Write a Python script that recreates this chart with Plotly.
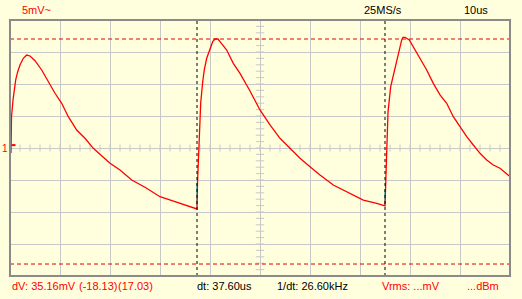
import plotly.graph_objects as go

# ---- data (time in microseconds, voltage in mV) ----
trace_t = [0.2, 0.3, 0.6, 0.86, 1.14, 1.54, 2.0, 2.66, 3.34, 4.0, 5.0, 6.34, 7.66, 9.0,
           10.34, 11.66, 13.34, 15.0, 16.66, 19.0, 20.0, 22.0, 24.34, 27.0, 30.0, 33.0,
           35.0, 37.0, 37.4,
           37.5, 37.7, 38.0, 38.14, 38.54, 38.86, 39.34, 40.0, 40.54, 41.0, 41.6, 42.0,
           43.34, 44.66, 46.0, 48.0, 50.0, 52.0, 54.0, 56.0, 58.0, 60.0, 62.0, 64.66,
           68.0, 70.66, 73.34, 74.66, 75.0,
           75.1, 75.3, 75.5, 75.6, 76.14, 76.46, 76.86, 77.34, 77.8, 78.34, 78.6, 79.0,
           79.86, 80.66, 82.0, 83.34, 84.66, 86.0, 87.34, 88.66, 90.0, 91.34, 92.66,
           94.0, 95.34, 96.66, 98.0, 99.34, 99.86]
trace_v = [-0.78, 4.84, 7.5, 9.06, 10.63, 11.92, 12.97, 14.02, 14.53, 14.38, 13.64, 12.19,
           10.36, 8.55, 6.98, 4.89, 2.81, 1.52, -0.05, -1.61, -2.39, -3.44, -5.0, -6.14,
           -7.61, -8.39, -8.91, -9.42, -9.53,
           -5.47, -0.6, 3.9, 7.03, 10.36, 12.19, 14.02, 15.58, 16.61, 17.03, 17.03, 16.61,
           15.31, 13.23, 11.67, 8.9, 5.94, 3.6, 1.52, -0.05, -1.61, -2.92, -4.22, -5.78,
           -7.08, -8.13, -8.64, -9.06, -9.06,
           -6.56, -1.88, 2.34, 5.6, 9.58, 10.63, 12.19, 13.75, 15.31, 16.88, 17.3, 17.3,
           16.88, 15.83, 13.97, 12.19, 10.1, 8.3, 6.98, 4.89, 3.33, 1.77, 0.47,
           -0.83, -1.88, -2.66, -3.17, -3.95, -4.38]

# trigger markers (cyan segments at the rising edges)
trig_t = [37.35, 37.35, None, 74.95, 74.95]
trig_v = [-9.0, -5.47, None, -9.0, -6.56]

# cursors
cursor_v = [-18.13, 17.03]     # mV
cursor_t = [37.4, 75.0]        # us
ch1_offset_mv = 0.45

x_range = [0, 100]
y_range = [-20, 20]
x_div = 10
y_div = 5
x_minor = [i * 2 for i in range(1, 50)]
y_minor = [i * 1 for i in range(-19, 20)]

top_labels = [("5mV~", 20, "#ff0000"), ("25MS/s", 362, "#000000"), ("10us", 462, "#000000")]
bottom_labels = [("dV: 35.16mV", 10, "#ff0000"), ("(-18.13)", 77, "#ff0000"),
                 ("(17.03)", 116, "#ff0000"), ("dt: 37.60us", 195, "#000000"),
                 ("1/dt: 26.60kHz", 275, "#000000"), ("Vrms: ...mV", 380, "#ff0000"),
                 ("...dBm", 465, "#ff0000")]

# ---- figure ----
W, H = 522, 299
ML, MR, MT, MB = 10, 12, 20, 23
PW, PH = W - ML - MR, H - MT - MB
BG = "#ffffdd"
GRID = "#c8c8c8"

fig = go.Figure()

# minor ticks on the centre axes
fig.add_trace(go.Scatter(x=x_minor, y=[0] * len(x_minor), mode="markers",
                         marker=dict(symbol="line-ns", size=5, line=dict(color=GRID, width=1)),
                         hoverinfo="skip", showlegend=False))
fig.add_trace(go.Scatter(x=[50] * len(y_minor), y=y_minor, mode="markers",
                         marker=dict(symbol="line-ew", size=6, line=dict(color=GRID, width=1)),
                         hoverinfo="skip", showlegend=False))

fig.add_trace(go.Scatter(x=trig_t, y=trig_v, mode="lines",
                         line=dict(color="#00e8e8", width=1), hoverinfo="skip",
                         showlegend=False, connectgaps=False))
fig.add_trace(go.Scatter(x=trace_t, y=trace_v, mode="lines",
                         line=dict(color="#ff0000", width=1.3), showlegend=False))

shapes = []
for v in cursor_v:
    shapes.append(dict(type="line", xref="paper", x0=0, x1=1, yref="y", y0=v, y1=v,
                       line=dict(color="#e00000", width=1, dash="4px,3px"), layer="above"))
for t in cursor_t:
    shapes.append(dict(type="line", xref="x", x0=t, x1=t, yref="paper", y0=0, y1=1,
                       line=dict(color="#000000", width=1, dash="3px,3px"), layer="above"))
# channel reference marker
shapes.append(dict(type="line", xref="paper", x0=0.003, x1=0.011, yref="y",
                   y0=ch1_offset_mv, y1=ch1_offset_mv,
                   line=dict(color="#ff0000", width=2), layer="above"))
# frame
shapes.append(dict(type="rect", xref="paper", yref="paper", x0=0, x1=1, y0=0, y1=1,
                   line=dict(color="#8a8a8a", width=2), layer="above"))

annotations = []
for txt, px, col in top_labels:
    annotations.append(dict(text=txt, xref="paper", yref="paper",
                            x=(px - ML) / PW, y=(H - MB - 9.5) / PH,
                            xanchor="left", yanchor="middle", showarrow=False,
                            font=dict(color=col, size=11, family="Liberation Sans, Arial")))
for txt, px, col in bottom_labels:
    annotations.append(dict(text=txt, xref="paper", yref="paper",
                            x=(px - ML) / PW, y=(H - MB - 286) / PH,
                            xanchor="left", yanchor="middle", showarrow=False,
                            font=dict(color=col, size=11, family="Liberation Sans, Arial")))
annotations.append(dict(text="1", xref="paper", yref="y", x=(0 - ML) / PW, y=0,
                        xanchor="left", yanchor="middle", showarrow=False,
                        font=dict(color="#ff0000", size=10, family="Liberation Sans, Arial")))

fig.update_layout(
    width=W, height=H,
    margin=dict(l=ML, r=MR, t=MT, b=MB, pad=0),
    paper_bgcolor=BG, plot_bgcolor=BG,
    xaxis=dict(range=x_range, dtick=x_div, tick0=0, showgrid=True, gridcolor=GRID,
               gridwidth=1, zeroline=False, showticklabels=False, ticks="", fixedrange=True),
    yaxis=dict(range=y_range, dtick=y_div, tick0=0, showgrid=True, gridcolor=GRID,
               gridwidth=1, zeroline=False, showticklabels=False, ticks="", fixedrange=True),
    shapes=shapes, annotations=annotations, showlegend=False,
)

fig.write_html("out.html", config={"displayModeBar": False})
